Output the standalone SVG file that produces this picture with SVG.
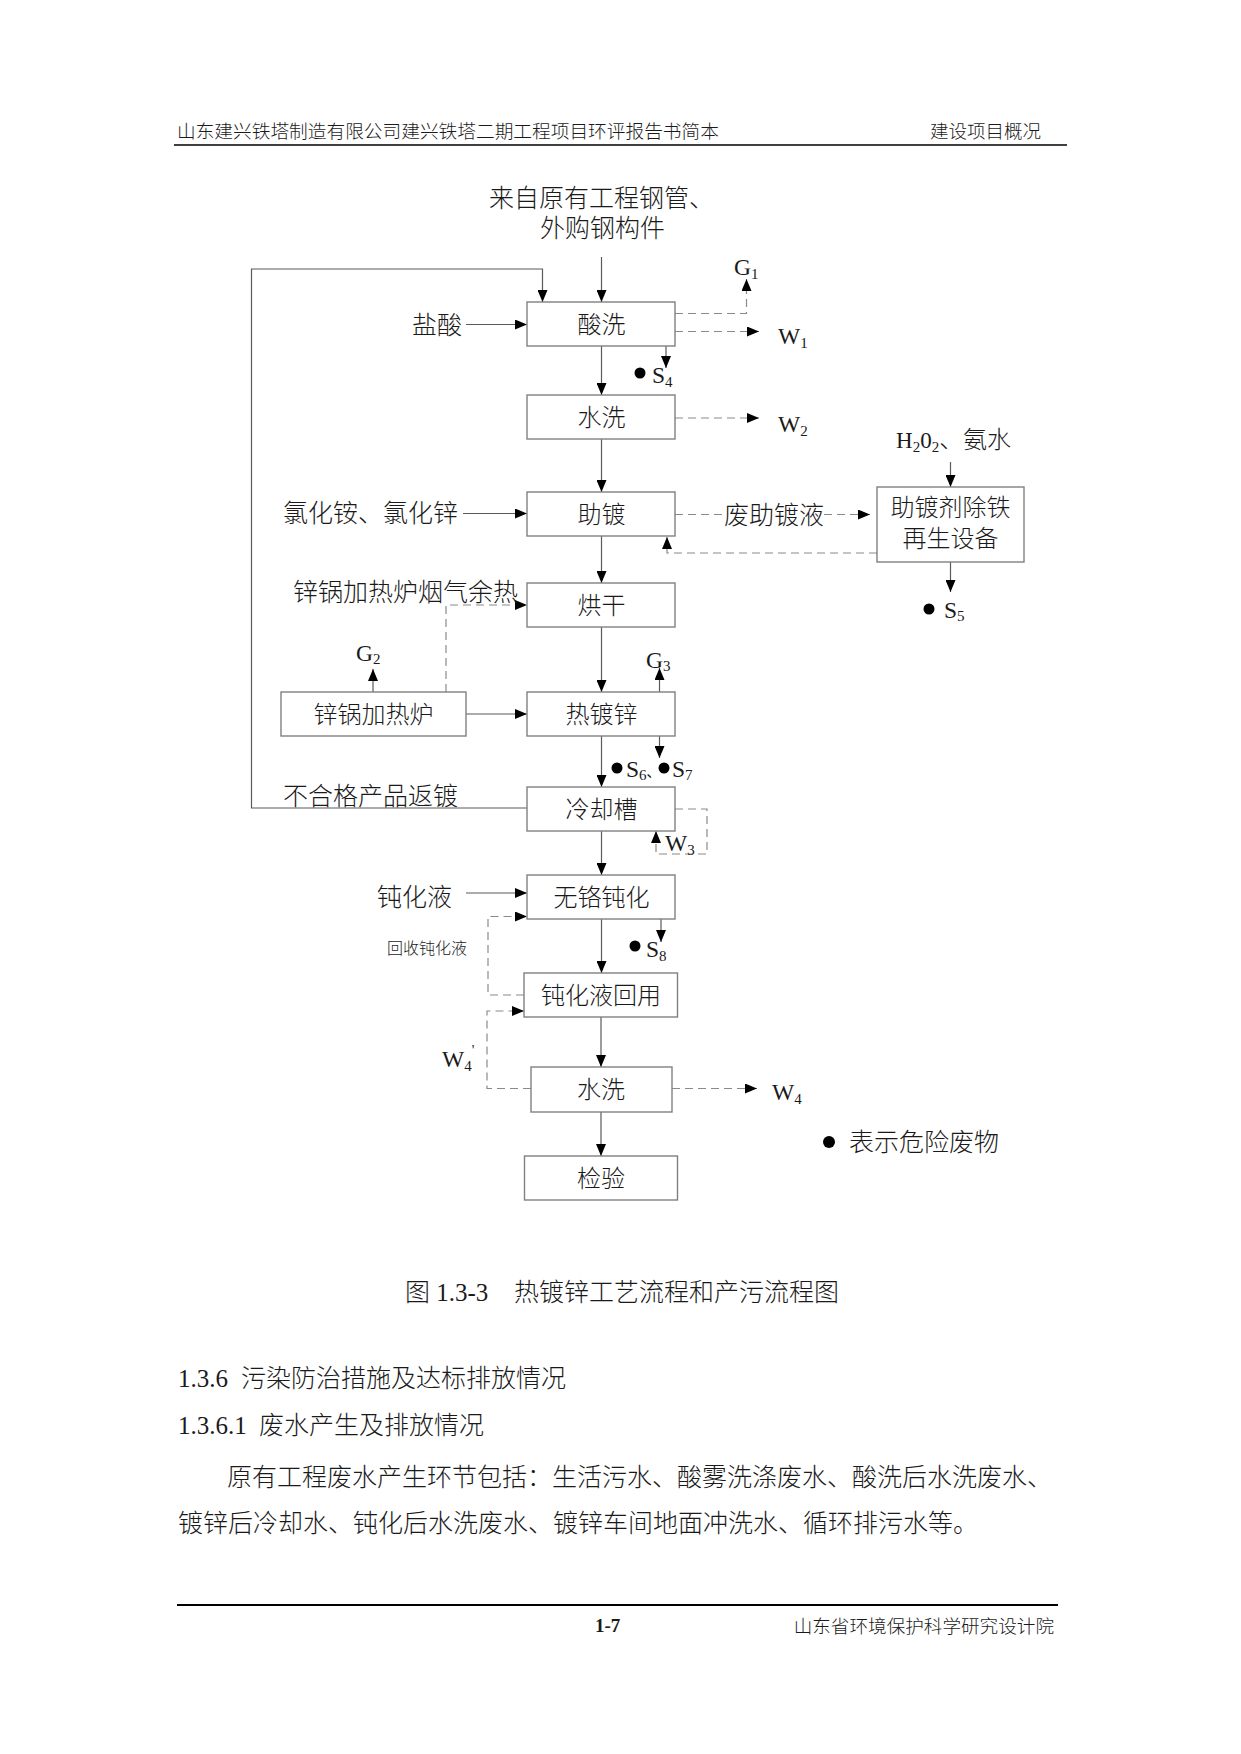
<svg xmlns="http://www.w3.org/2000/svg" width="1241" height="1754" viewBox="0 0 1241 1754">
<defs>
<style>
.t{font-family:"Liberation Serif","Noto Sans CJK SC",serif;fill:#1a1a1a;font-weight:300;}
.b24{font-size:24px;text-anchor:middle;}
.l25{font-size:25px;}
.lt{font-size:23.5px;font-weight:400;}
.sub{font-size:15px;}
.bold{font-weight:700;}
.box{fill:#fff;stroke:#808080;stroke-width:1.4;}
.sl{fill:none;stroke:#5a5a5a;stroke-width:1.2;}
.dl{fill:none;stroke:#8a8a8a;stroke-width:1.2;stroke-dasharray:8 5;}
</style>
<marker id="ah" markerWidth="12" markerHeight="10" refX="12" refY="5" orient="auto" markerUnits="userSpaceOnUse">
<path d="M0,0 L12,5 L0,10 Z" fill="#000"/>
</marker>
</defs>
<rect width="1241" height="1754" fill="#fff"/>

<g id="header">
<text class="t" x="177" y="138" font-size="18.7">山东建兴铁塔制造有限公司建兴铁塔二期工程项目环评报告书简本</text>
<text class="t" x="1041" y="138" font-size="18.5" text-anchor="end">建设项目概况</text>
<line x1="174" y1="145" x2="1067" y2="145" stroke="#000" stroke-width="1.6"/>
</g>

<g id="source">
<text class="t l25" x="489" y="207">来自原有工程钢管、</text>
<text class="t l25" x="540" y="237">外购钢构件</text>
</g>

<g id="connectors">
<path class="sl" d="M601.5,257 V302" marker-end="url(#ah)"/>
<path class="sl" d="M527,808 H251.5 V269 H542.5 V302" marker-end="url(#ah)"/>
<path class="sl" d="M466,324.5 H527" marker-end="url(#ah)"/>
<path class="sl" d="M601.5,346 V395" marker-end="url(#ah)"/>
<path class="sl" d="M666,346 V368" marker-end="url(#ah)"/>
<path class="sl" d="M601.5,439 V492" marker-end="url(#ah)"/>
<path class="sl" d="M463,513.5 H527" marker-end="url(#ah)"/>
<path class="sl" d="M601.5,536 V583" marker-end="url(#ah)"/>
<path class="sl" d="M950.5,462 V487" marker-end="url(#ah)"/>
<path class="sl" d="M950.5,562 V592" marker-end="url(#ah)"/>
<path class="sl" d="M601.5,627 V692" marker-end="url(#ah)"/>
<path class="sl" d="M466,714 H527" marker-end="url(#ah)"/>
<path class="sl" d="M373,692 V669" marker-end="url(#ah)"/>
<path class="sl" d="M659.5,692 V668" marker-end="url(#ah)"/>
<path class="sl" d="M659.5,736 V758" marker-end="url(#ah)"/>
<path class="sl" d="M601.5,736 V787" marker-end="url(#ah)"/>
<path class="sl" d="M601.5,831 V875" marker-end="url(#ah)"/>
<path class="sl" d="M466,893 H527" marker-end="url(#ah)"/>
<path class="sl" d="M661,919 V942" marker-end="url(#ah)"/>
<path class="sl" d="M601.5,919 V973" marker-end="url(#ah)"/>
<path class="sl" d="M601,1017 V1067" marker-end="url(#ah)"/>
<path class="sl" d="M601,1112 V1156" marker-end="url(#ah)"/>

<path class="dl" d="M675,313.5 H746.5 V279" marker-end="url(#ah)"/>
<path class="dl" d="M675,331.5 H759" marker-end="url(#ah)"/>
<path class="dl" d="M675,418 H759" marker-end="url(#ah)"/>
<path class="dl" d="M675,514.5 H722"/>
<path class="dl" d="M824,514.5 H870" marker-end="url(#ah)"/>
<path class="dl" d="M877,553 H667 V537" marker-end="url(#ah)"/>
<path class="dl" d="M446,692 V605 H527" marker-end="url(#ah)"/>
<path class="dl" d="M675,809 H707 V854 H656 V831" marker-end="url(#ah)"/>
<path class="dl" d="M524,995 H488 V916.5 H527" marker-end="url(#ah)"/>
<path class="dl" d="M531,1088.5 H487 V1011 H524" marker-end="url(#ah)"/>
<path class="dl" d="M672,1088.5 H757" marker-end="url(#ah)"/>
</g>

<g id="n-suanxi">
<rect class="box" x="527" y="302" width="148" height="44"/>
<text class="t b24" x="601.5" y="333">酸洗</text>
</g>
<g id="n-shuixi1">
<rect class="box" x="527" y="395" width="148" height="44"/>
<text class="t b24" x="601.5" y="426">水洗</text>
</g>
<g id="n-zhudu">
<rect class="box" x="527" y="492" width="148" height="44"/>
<text class="t b24" x="601.5" y="523">助镀</text>
</g>
<g id="n-honggan">
<rect class="box" x="527" y="583" width="148" height="44"/>
<text class="t b24" x="601.5" y="614">烘干</text>
</g>
<g id="n-redu">
<rect class="box" x="527" y="692" width="148" height="44"/>
<text class="t b24" x="601.5" y="723">热镀锌</text>
</g>
<g id="n-lengque">
<rect class="box" x="527" y="787" width="148" height="44"/>
<text class="t b24" x="601.5" y="818">冷却槽</text>
</g>
<g id="n-dunhua">
<rect class="box" x="527" y="875" width="148" height="44"/>
<text class="t b24" x="601.5" y="906">无铬钝化</text>
</g>
<g id="n-huiyong">
<rect class="box" x="524" y="973" width="153.5" height="44"/>
<text class="t b24" x="601" y="1004">钝化液回用</text>
</g>
<g id="n-shuixi2">
<rect class="box" x="531" y="1067" width="141" height="45"/>
<text class="t b24" x="601" y="1098">水洗</text>
</g>
<g id="n-jianyan">
<rect class="box" x="524.5" y="1156" width="153" height="44"/>
<text class="t b24" x="601" y="1187">检验</text>
</g>
<g id="n-zaisheng">
<rect class="box" x="877" y="487" width="147" height="75"/>
<text class="t b24" x="950.5" y="516">助镀剂除铁</text>
<text class="t b24" x="950.5" y="547">再生设备</text>
</g>
<g id="n-luzi">
<rect class="box" x="281" y="692" width="185" height="44"/>
<text class="t b24" x="373.5" y="723">锌锅加热炉</text>
</g>

<g id="labels">
<text class="t l25" x="462" y="334" text-anchor="end">盐酸</text>
<text class="t l25" x="458" y="522" text-anchor="end">氯化铵、氯化锌</text>
<text class="t l25" x="293" y="601">锌锅加热炉烟气余热</text>
<text class="t l25" x="283" y="805">不合格产品返镀</text>
<text class="t l25" x="452" y="906" text-anchor="end">钝化液</text>
<text class="t" x="387" y="954" font-size="16" fill="#444">回收钝化液</text>
<text class="t l25" x="724" y="523.5">废助镀液</text>
<text class="t" x="896" y="448" font-size="23">H<tspan class="sub" dy="4">2</tspan><tspan dy="-4">0</tspan><tspan class="sub" dy="4">2</tspan><tspan dy="-4" font-size="24">、氨水</tspan></text>

<text class="t lt" x="734" y="275">G<tspan class="sub" dy="4">1</tspan></text>
<text class="t lt" x="778" y="344">W<tspan class="sub" dy="4">1</tspan></text>
<text class="t lt" x="778" y="432">W<tspan class="sub" dy="4">2</tspan></text>
<text class="t lt" x="356" y="661">G<tspan class="sub" dy="3">2</tspan></text>
<text class="t lt" x="646" y="668">G<tspan class="sub" dy="3">3</tspan></text>
<text class="t lt" x="665" y="851">W<tspan class="sub" dy="4">3</tspan></text>
<text class="t lt" x="772" y="1100">W<tspan class="sub" dy="4">4</tspan></text>
<text class="t lt" x="442" y="1067">W<tspan class="sub" dy="4">4</tspan><tspan class="sub" dy="-16">'</tspan></text>

<circle cx="640" cy="373" r="5.5" fill="#000"/>
<text class="t lt" x="652" y="383">S<tspan class="sub" dy="4">4</tspan></text>
<circle cx="929" cy="609" r="5.5" fill="#000"/>
<text class="t lt" x="944" y="618">S<tspan class="sub" dy="3">5</tspan></text>
<circle cx="617" cy="768" r="5.5" fill="#000"/>
<text class="t lt" x="626" y="777">S<tspan class="sub" dy="3">6</tspan><tspan font-size="14" dy="-3">、</tspan></text>
<circle cx="664" cy="768" r="5.5" fill="#000"/>
<text class="t lt" x="672" y="777">S<tspan class="sub" dy="3">7</tspan></text>
<circle cx="635" cy="946" r="5.5" fill="#000"/>
<text class="t lt" x="646" y="957">S<tspan class="sub" dy="4">8</tspan></text>
</g>

<g id="legend">
<circle cx="829" cy="1142" r="6" fill="#000"/>
<text class="t l25" x="849" y="1151">表示危险废物</text>
</g>

<g id="caption">
<text class="t l25" x="405" y="1301">图 1.3-3</text>
<text class="t l25" x="514" y="1301">热镀锌工艺流程和产污流程图</text>
</g>

<g id="body">
<text class="t l25" x="178" y="1387">1.3.6</text>
<text class="t l25" x="241" y="1387">污染防治措施及达标排放情况</text>
<text class="t l25" x="178" y="1434">1.3.6.1</text>
<text class="t l25" x="259" y="1434">废水产生及排放情况</text>
<text class="t l25" x="227" y="1486">原有工程废水产生环节包括：生活污水、酸雾洗涤废水、酸洗后水洗废水、</text>
<text class="t l25" x="178" y="1532">镀锌后冷却水、钝化后水洗废水、镀锌车间地面冲洗水、循环排污水等。</text>
</g>

<g id="footer">
<line x1="177" y1="1605" x2="1058" y2="1605" stroke="#000" stroke-width="2"/>
<text class="t bold" x="595" y="1632" font-size="19">1-7</text>
<text class="t" x="1054" y="1633" font-size="18.6" text-anchor="end">山东省环境保护科学研究设计院</text>
</g>
</svg>
